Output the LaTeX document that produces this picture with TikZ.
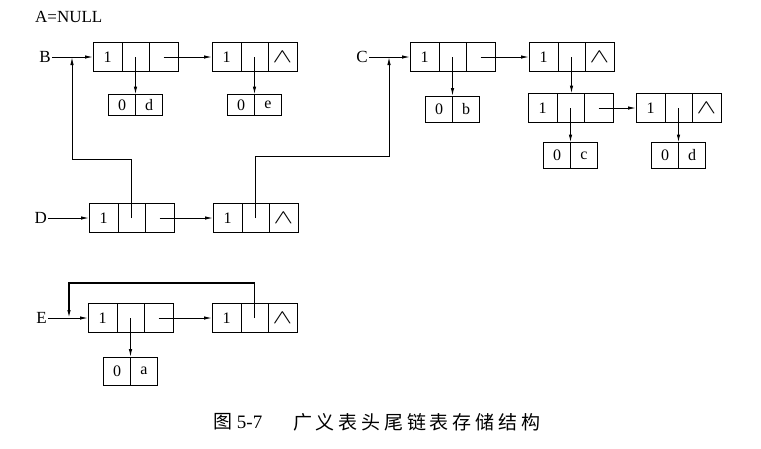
\documentclass[tikz,border=0pt]{standalone}
\usepackage{fontspec}
\setmainfont{Liberation Serif}
\newfontfamily\cjk[LetterSpace=20]{Noto Sans CJK SC}
\usetikzlibrary{arrows.meta, positioning}

\newcommand{\nil}{\scalebox{1.7}[1.15]{$\wedge$}}

\tikzset{
    cell/.style={draw, line width=1pt, inner sep=0pt, outer sep=0pt,
        minimum height=29pt, font=\fontsize{16}{16}\selectfont},
    tagc/.style={cell, minimum width=29pt},
    hpc/.style={cell, minimum width=27pt},
    tpc/.style={cell, minimum width=29pt},
    acell/.style={cell, minimum height=26pt, minimum width=27pt},
    ptr/.style={line width=1pt, -{Latex[length=8pt, width=3.5pt]}},
    lab/.style={anchor=east, inner sep=1pt, font=\fontsize{17}{17}\selectfont},
}

\begin{document}
\begin{tikzpicture}[x=1pt, y=-1pt]
    \useasboundingbox (0,0) rectangle (761,448);

    % A
    \node[anchor=west, inner sep=0pt, font=\fontsize{17}{17}\selectfont] (anull) at (35,17) {A=NULL};

    % B
    \node[lab] (B) at (52,57) {B};
    \node[tagc] (b1t) at (107.5,57) {1};
    \node[hpc, right=0pt of b1t] (b1h) {};
    \node[tpc, right=0pt of b1h] (b1p) {};
    \node[tagc] (b2t) at (226.5,57) {1};
    \node[hpc, right=0pt of b2t] (b2h) {};
    \node[tpc, right=0pt of b2h] (b2p) {\nil};
    \node[acell, minimum height=21pt] (bat) at (122,105) {0};
    \node[acell, minimum height=21pt, right=0pt of bat] (bav) {d};
    \node[acell, minimum height=21pt] (bbt) at (241,105) {0};
    \node[acell, minimum height=21pt, right=0pt of bbt] (bbv) {e};
    \coordinate (bj) at (72,57);

    \draw[ptr] (B) -- (b1t);
    \draw[ptr] (b1p.center) -- (b2t);
    \draw[ptr] (b1h.center) -- (b1h.center |- bat.north);
    \draw[ptr] (b2h.center) -- (b2h.center |- bbt.north);

    % C
    \node[lab] (C) at (369,57) {C};
    \node[tagc] (c1t) at (424.5,57) {1};
    \node[hpc, right=0pt of c1t] (c1h) {};
    \node[tpc, right=0pt of c1h] (c1p) {};
    \node[tagc] (c2t) at (543.5,57) {1};
    \node[hpc, right=0pt of c2t] (c2h) {};
    \node[tpc, right=0pt of c2h] (c2p) {\nil};
    \node[tagc] (c3t) at (542.5,108) {1};
    \node[hpc, right=0pt of c3t] (c3h) {};
    \node[tpc, right=0pt of c3h] (c3p) {};
    \node[tagc] (c4t) at (650.5,108) {1};
    \node[hpc, right=0pt of c4t] (c4h) {};
    \node[tpc, right=0pt of c4h] (c4p) {\nil};
    \node[acell] (cat) at (439,109) {0};
    \node[acell, right=0pt of cat] (cav) {b};
    \node[acell] (cbt) at (557,155.5) {0};
    \node[acell, right=0pt of cbt] (cbv) {c};
    \node[acell] (cct) at (665,155.5) {0};
    \node[acell, right=0pt of cct] (ccv) {d};
    \coordinate (cj) at (389,57);

    \draw[ptr] (C) -- (c1t);
    \draw[ptr] (c1p.center) -- (c2t);
    \draw[ptr] (c1h.center) -- (c1h.center |- cat.north);
    \draw[ptr] (c2h.center) -- (c2h.center |- c3t.north);
    \draw[ptr] (c3p.center) -- (c4t);
    \draw[ptr] (c3h.center) -- (c3h.center |- cbt.north);
    \draw[ptr] (c4h.center) -- (c4h.center |- cct.north);

    % D
    \node[lab] (D) at (48,218) {D};
    \node[tagc] (d1t) at (103.5,218) {1};
    \node[hpc, right=0pt of d1t] (d1h) {};
    \node[tpc, right=0pt of d1h] (d1p) {};
    \node[tagc] (d2t) at (227.5,218) {1};
    \node[hpc, right=0pt of d2t] (d2h) {};
    \node[tpc, right=0pt of d2h] (d2p) {\nil};

    \draw[ptr] (D) -- (d1t);
    \draw[ptr] (d1p.center) -- (d2t);
    \draw[ptr] (d1h.center) -- ++(0,-59) -| (bj);
    \draw[ptr] (d2h.center) -- ++(0,-62) -| (cj);

    % E
    \node[lab] (E) at (48,318) {E};
    \node[tagc] (e1t) at (102.5,318) {1};
    \node[hpc, right=0pt of e1t] (e1h) {};
    \node[tpc, right=0pt of e1h] (e1p) {};
    \node[tagc] (e2t) at (226.5,318) {1};
    \node[hpc, right=0pt of e2t] (e2h) {};
    \node[tpc, right=0pt of e2h] (e2p) {\nil};
    \node[acell, minimum height=28pt] (eat) at (117,371) {0};
    \node[acell, minimum height=28pt, right=0pt of eat] (eav) {a};
    \coordinate (ej) at (69,318);

    \draw[ptr] (E) -- (e1t);
    \draw[ptr] (e1p.center) -- (e2t);
    \draw[ptr] (e1h.center) -- (e1h.center |- eat.north);
    \draw[ptr, line width=1.2pt] (e2h.center) -- ++(0,-35) -| (ej);

    % 图题
    \node[anchor=west, inner sep=0pt, font=\fontsize{19}{19}\selectfont] (fignum) at (213,422) {{\cjk 图} 5-7};
    \node[anchor=west, inner sep=0pt, font=\cjk\fontsize{19}{19}\selectfont] (figtitle) at (293,422) {广义表头尾链表存储结构};
\end{tikzpicture}
\end{document}
